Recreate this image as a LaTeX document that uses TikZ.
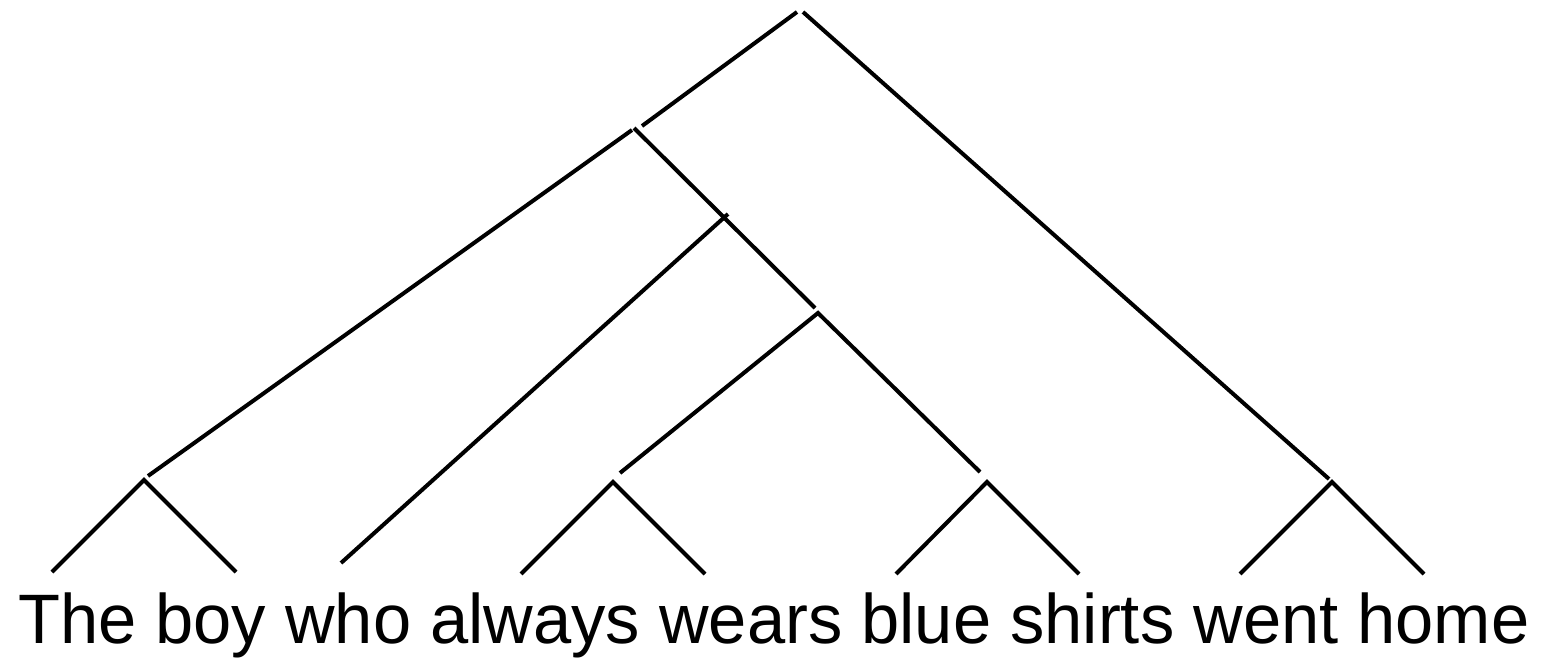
\documentclass[tikz,border=0pt]{standalone}
\usepackage{fontspec}
\setmainfont{Liberation Sans}
\tikzset{branch/.style={line width=4pt, line cap=butt, black},
  word/.style={anchor=base west, inner sep=0pt, font=\fontsize{70pt}{84pt}\selectfont, xscale=0.981}}
\begin{document}
\begin{tikzpicture}[x=1pt,y=-1pt]
\useasboundingbox (0,0) rectangle (1564,663);
% coordinates
\coordinate (rootL) at (797,12);
\coordinate (rootR) at (803,12);
\coordinate (aTop) at (642,126);
\coordinate (home) at (1329,479);
\coordinate (aL) at (632,130);
\coordinate (aR) at (634,128);
\coordinate (npTop) at (148,476);
\coordinate (aEnd) at (815,308);
\coordinate (whoBot) at (341,563);
\coordinate (whoTop) at (728,214);
\coordinate (b) at (818,313);
\coordinate (bL) at (620,473);
\coordinate (bR) at (980,472);
\coordinate (n1) at (144,480);
\coordinate (l1) at (52,572);
\coordinate (l2) at (236,572);
\coordinate (n2) at (613,482);
\coordinate (l3) at (521,574);
\coordinate (l4) at (705,574);
\coordinate (n3) at (987,482);
\coordinate (l5) at (896,574);
\coordinate (l6) at (1079,574);
\coordinate (n4) at (1332,482);
\coordinate (l7) at (1240,574);
\coordinate (l8) at (1424,574);
% branches
\draw[branch] (rootL) -- (aTop);
\draw[branch] (rootR) -- (home);
\draw[branch] (aL) -- (npTop);
\draw[branch] (aR) -- (aEnd);
\draw[branch] (whoBot) -- (whoTop);
\draw[branch] (bL) -- (b) -- (bR);
\draw[branch] (l1) -- (n1) -- (l2);
\draw[branch] (l3) -- (n2) -- (l4);
\draw[branch] (l5) -- (n3) -- (l6);
\draw[branch] (l7) -- (n4) -- (l8);
% sentence
\node[word] (sent) at (18,643) {The boy who always wears blue shirts went home};
\end{tikzpicture}
\end{document}
